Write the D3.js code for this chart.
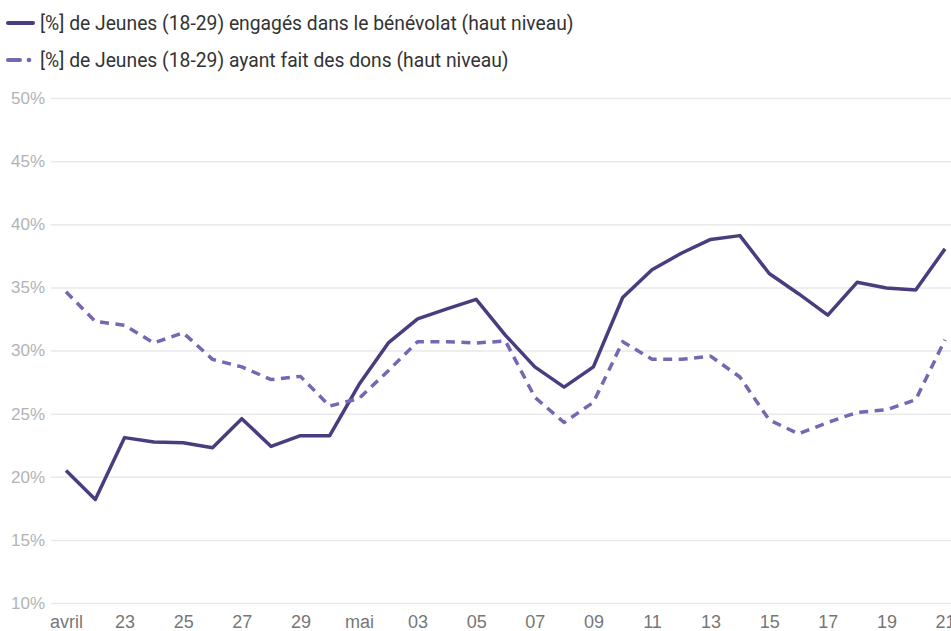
<!DOCTYPE html>
<html>
<head>
<meta charset="utf-8">
<script src="https://cdn.jsdelivr.net/npm/d3@7"></script>
<style>
  body { margin: 0; background: #fff; }
  svg { display: block; font-family: Roboto, sans-serif; }
</style>
</head>
<body>
<svg width="951" height="631"></svg>
<script>
const days = [
  '2020-04-21', '2020-04-22', '2020-04-23', '2020-04-24', '2020-04-25', '2020-04-26',
  '2020-04-27', '2020-04-28', '2020-04-29', '2020-04-30', '2020-05-01', '2020-05-02',
  '2020-05-03', '2020-05-04', '2020-05-05', '2020-05-06', '2020-05-07', '2020-05-08',
  '2020-05-09', '2020-05-10', '2020-05-11', '2020-05-12', '2020-05-13', '2020-05-14',
  '2020-05-15', '2020-05-16', '2020-05-17', '2020-05-18', '2020-05-19', '2020-05-20',
  '2020-05-21'
]
const benevolat = [
  20.5, 18.2, 23.1, 22.75, 22.7, 22.3, 24.6, 22.4, 23.25, 23.25, 27.3, 30.6,
  32.5, 33.3, 34.05, 31.2, 28.7, 27.1, 28.7, 34.2, 36.4, 37.7, 38.8, 39.1,
  36.1, 34.5, 32.8, 35.4, 34.95, 34.8, 38.05
]
const dons = [
  34.65, 32.3, 32.0, 30.6, 31.4, 29.3, 28.7, 27.7, 27.95, 25.6, 26.2, 28.4,
  30.7, 30.7, 30.6, 30.75, 26.3, 24.3, 25.9, 30.7, 29.3, 29.3, 29.55, 27.9,
  24.5, 23.4, 24.3, 25.1, 25.3, 26.1, 30.85
]
const yTicks = [10, 15, 20, 25, 30, 35, 40, 45, 50]
const series = [
  { label: '[%] de Jeunes (18-29) engagés dans le bénévolat (haut niveau)', values: benevolat, color: '#4b3c80', dash: null },
  { label: '[%] de Jeunes (18-29) ayant fait des dons (haut niveau)', values: dons, color: '#7966b3', dash: '9,6.5' }
]
const moisFr = ['janv.', 'févr.', 'mars', 'avril', 'mai', 'juin']

const parse = d3.timeParse('%Y-%m-%d')
const dates = days.map(parse)

const svg = d3.select('svg')
const x = d3.scaleTime()
  .domain(d3.extent(dates))
  .range([66, 945])
const y = d3.scaleLinear()
  .domain([10, 50])
  .range([603, 98])

// grid + y labels
const yAxis = d3.axisLeft(y)
  .tickValues(yTicks)
  .tickSize(-900)
  .tickPadding(6)
  .tickFormat(d => d + '%')
svg.append('g')
  .attr('transform', 'translate(51,0)')
  .call(yAxis)
  .call(g => g.select('.domain').remove())
  .call(g => g.selectAll('line').attr('stroke', '#e9e9e9').attr('stroke-width', 1.5))
  .call(g => g.selectAll('text').attr('fill', '#b3b3b3').attr('font-size', 17))

// x labels, every 2 days, month name on the first tick of each month
const xTicks = dates.filter((d, i) => i % 2 === 0)
let lastMonth = null
const xLabels = xTicks.map(d => {
  const m = d.getMonth()
  const lab = m !== lastMonth ? moisFr[m] : d3.timeFormat('%d')(d)
  lastMonth = m
  return lab
})
const xAxis = d3.axisBottom(x)
  .tickValues(xTicks)
  .tickSize(0)
  .tickPadding(0)
  .tickFormat((d, i) => xLabels[i])
svg.append('g')
  .attr('transform', 'translate(0,615)')
  .call(xAxis)
  .call(g => g.select('.domain').remove())
  .call(g => g.selectAll('text').attr('fill', '#777').attr('font-size', 18))

// lines
const line = d3.line()
  .x((d, i) => x(dates[i]))
  .y(d => y(d))
series.forEach(s => {
  svg.append('path')
    .datum(s.values)
    .attr('fill', 'none')
    .attr('stroke', s.color)
    .attr('stroke-width', 3.5)
    .attr('stroke-linejoin', 'round')
    .attr('stroke-dasharray', s.dash)
    .attr('d', line)
})

// legend
const legend = svg.append('g')
series.forEach((s, i) => {
  const ly = 23 + i * 37
  const g = legend.append('g').attr('transform', `translate(0,${ly})`)
  if (s.dash) {
    g.append('line').attr('x1', 8).attr('x2', 20).attr('stroke', s.color)
      .attr('stroke-width', 4).attr('stroke-linecap', 'round')
    g.append('circle').attr('cx', 29).attr('r', 2.3).attr('fill', s.color)
  } else {
    g.append('line').attr('x1', 8).attr('x2', 33).attr('stroke', s.color)
      .attr('stroke-width', 4).attr('stroke-linecap', 'round')
  }
  g.append('text')
    .attr('x', 40)
    .attr('dy', '0.35em')
    .attr('font-size', 19.3)
    .attr('fill', '#333')
    .text(s.label)
})
</script>
</body>
</html>
